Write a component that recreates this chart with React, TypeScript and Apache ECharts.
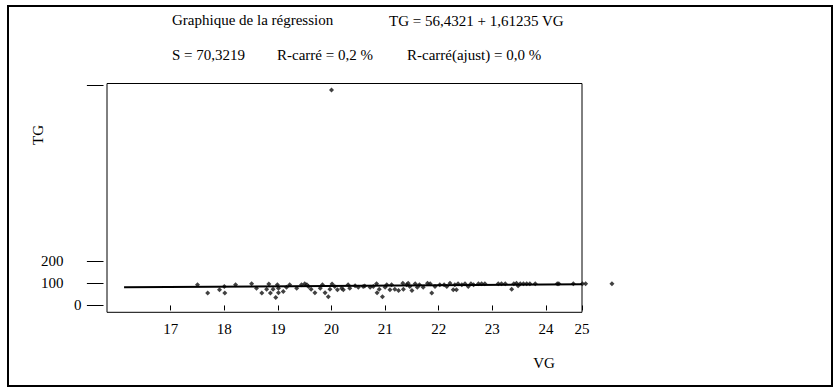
import { useEffect, useRef } from "react";
import * as echarts from "echarts";

// Observations: VG (x) and TG (y)
const VG = [
  17.5, 17.69, 17.91, 18.0, 18.01, 18.21, 18.51, 18.6, 18.7, 18.79, 18.83, 18.86, 18.91, 18.96, 18.99,
  19.01, 19.01, 19.1, 19.16, 19.22, 19.35, 19.44, 19.5, 19.54, 19.57, 19.62, 19.69, 19.79, 19.83, 19.88,
  19.94, 19.97, 20.0, 20.01, 20.06, 20.11, 20.19, 20.22, 20.31, 20.34, 20.44, 20.5, 20.59, 20.62, 20.72,
  20.78, 20.84, 20.85, 20.89, 20.95, 21.0, 21.03, 21.09, 21.12, 21.18, 21.25, 21.33, 21.34, 21.4, 21.43,
  21.46, 21.5, 21.56, 21.6, 21.64, 21.71, 21.79, 21.84, 21.87, 21.93, 22.02, 22.1, 22.15, 22.21, 22.27,
  22.3, 22.33, 22.36, 22.43, 22.49, 22.55, 22.6, 22.65, 22.74, 22.8, 22.86, 23.11, 23.17, 23.24, 23.36,
  23.4, 23.45, 23.48, 23.52, 23.58, 23.64, 23.7, 23.8, 24.21, 24.24, 24.51, 24.68, 24.74, 25.23,
];
const TG = [
  94, 56, 71, 86, 56, 94, 98, 78, 56, 74, 97, 56, 74, 36, 94,
  78, 58, 63, 83, 94, 78, 94, 98, 94, 86, 74, 58, 78, 94, 58,
  40, 74, 977, 97, 86, 71, 78, 71, 94, 78, 89, 83, 86, 88, 83,
  86, 98, 58, 74, 40, 83, 94, 71, 94, 74, 68, 101, 74, 94, 101,
  86, 68, 98, 83, 94, 83, 101, 98, 56, 86, 94, 94, 86, 101, 71,
  94, 71, 98, 94, 98, 86, 98, 94, 98, 98, 98, 98, 98, 98, 74,
  98, 101, 89, 98, 98, 98, 98, 98, 98, 99, 98, 98, 98, 98,
];

// Axis ticks and labels
const X_TICKS = [17, 18, 19, 20, 21, 22, 23, 24];
const X_MIN = 15.812;
const X_END = 24.672; // right edge of the frame, labelled 25
const Y_MIN = -31;
const Y_MAX = 1007;
const Y_TICKS = [0, 100, 200, 1000];
const Y_LABELS = [0, 100, 200];

// Fitted line TG = 56,4321 + 1,61235 VG
const INTERCEPT = 56.4321;
const SLOPE = 1.61235;
const FIT_FROM = 16.13;

const FONT = "'Liberation Serif', 'Times New Roman', serif";

export default function App() {
  const ref = useRef<HTMLDivElement>(null);

  useEffect(() => {
    document.body.style.margin = "0";
    const chart = echarts.init(ref.current!, null, { renderer: "svg" });
    const points = VG.map((v, i) => [v, TG[i]]);
    const fit = [FIT_FROM, X_END].map((v) => [v, INTERCEPT + SLOPE * v]);
    const text = (t: string, x: number, y: number, extra: object = {}) => ({
      type: "text",
      x,
      y,
      ...extra,
      style: { text: t, font: `15px ${FONT}`, fill: "#000", verticalAlign: "middle", ...((extra as any).style || {}) },
    });

    chart.setOption({
      animation: false,
      backgroundColor: "#fff",
      textStyle: { fontFamily: FONT, color: "#000" },
      grid: {
        left: 107,
        top: 83.5,
        width: 475,
        height: 228.8,
        show: true,
        borderColor: "#000",
        borderWidth: 1,
        backgroundColor: "transparent",
      },
      xAxis: {
        type: "value",
        min: X_MIN,
        max: X_END,
        axisLine: { show: false },
        splitLine: { show: false },
        axisTick: {
          show: true,
          customValues: [...X_TICKS, X_END],
          length: 5,
          lineStyle: { color: "#000", width: 1 },
        },
        axisLabel: {
          customValues: [...X_TICKS, X_END],
          formatter: (v: number) => String(Math.round(v)),
          fontFamily: FONT,
          fontSize: 15,
          color: "#000",
          margin: 9,
        },
      },
      yAxis: {
        type: "value",
        min: Y_MIN,
        max: Y_MAX,
        offset: 3.5,
        axisLine: { show: false },
        splitLine: { show: false },
        axisTick: {
          show: true,
          customValues: Y_TICKS,
          length: 16.6,
          lineStyle: { color: "#000", width: 1 },
        },
        axisLabel: {
          customValues: Y_LABELS,
          margin: 22,
          formatter: (v: number) => (v === 0 ? "{z|0}" : `{n|${v}}`),
          rich: {
            z: { fontFamily: FONT, fontSize: 15, color: "#000" },
            n: { fontFamily: FONT, fontSize: 15, color: "#000", padding: [0, 18, 0, 0] },
          },
        },
      },
      series: [
        {
          type: "scatter",
          data: points,
          symbol: "diamond",
          symbolSize: 5,
          clip: false,
          itemStyle: { color: "#111" },
        },
        {
          type: "line",
          data: fit,
          showSymbol: false,
          clip: false,
          lineStyle: { color: "#000", width: 2 },
        },
      ],
      graphic: [
        {
          type: "rect",
          shape: { x: 8, y: 6, width: 824, height: 380 },
          style: { fill: "none", stroke: "#000", lineWidth: 2 },
          silent: true,
        },
        text("Graphique de la régression", 172, 20),
        text("TG = 56,4321 + 1,61235 VG", 389, 21),
        text("S = 70,3219", 172, 55),
        text("R-carré = 0,2 %", 277, 55),
        text("R-carré(ajust) = 0,0 %", 407, 55),
        text("TG", 37.5, 135, { rotation: Math.PI / 2, style: { align: "center" } }),
        text("VG", 544, 363, { style: { align: "center" } }),
      ],
    });

    return () => chart.dispose();
  }, []);

  return <div ref={ref} style={{ width: 837, height: 390 }} />;
}
